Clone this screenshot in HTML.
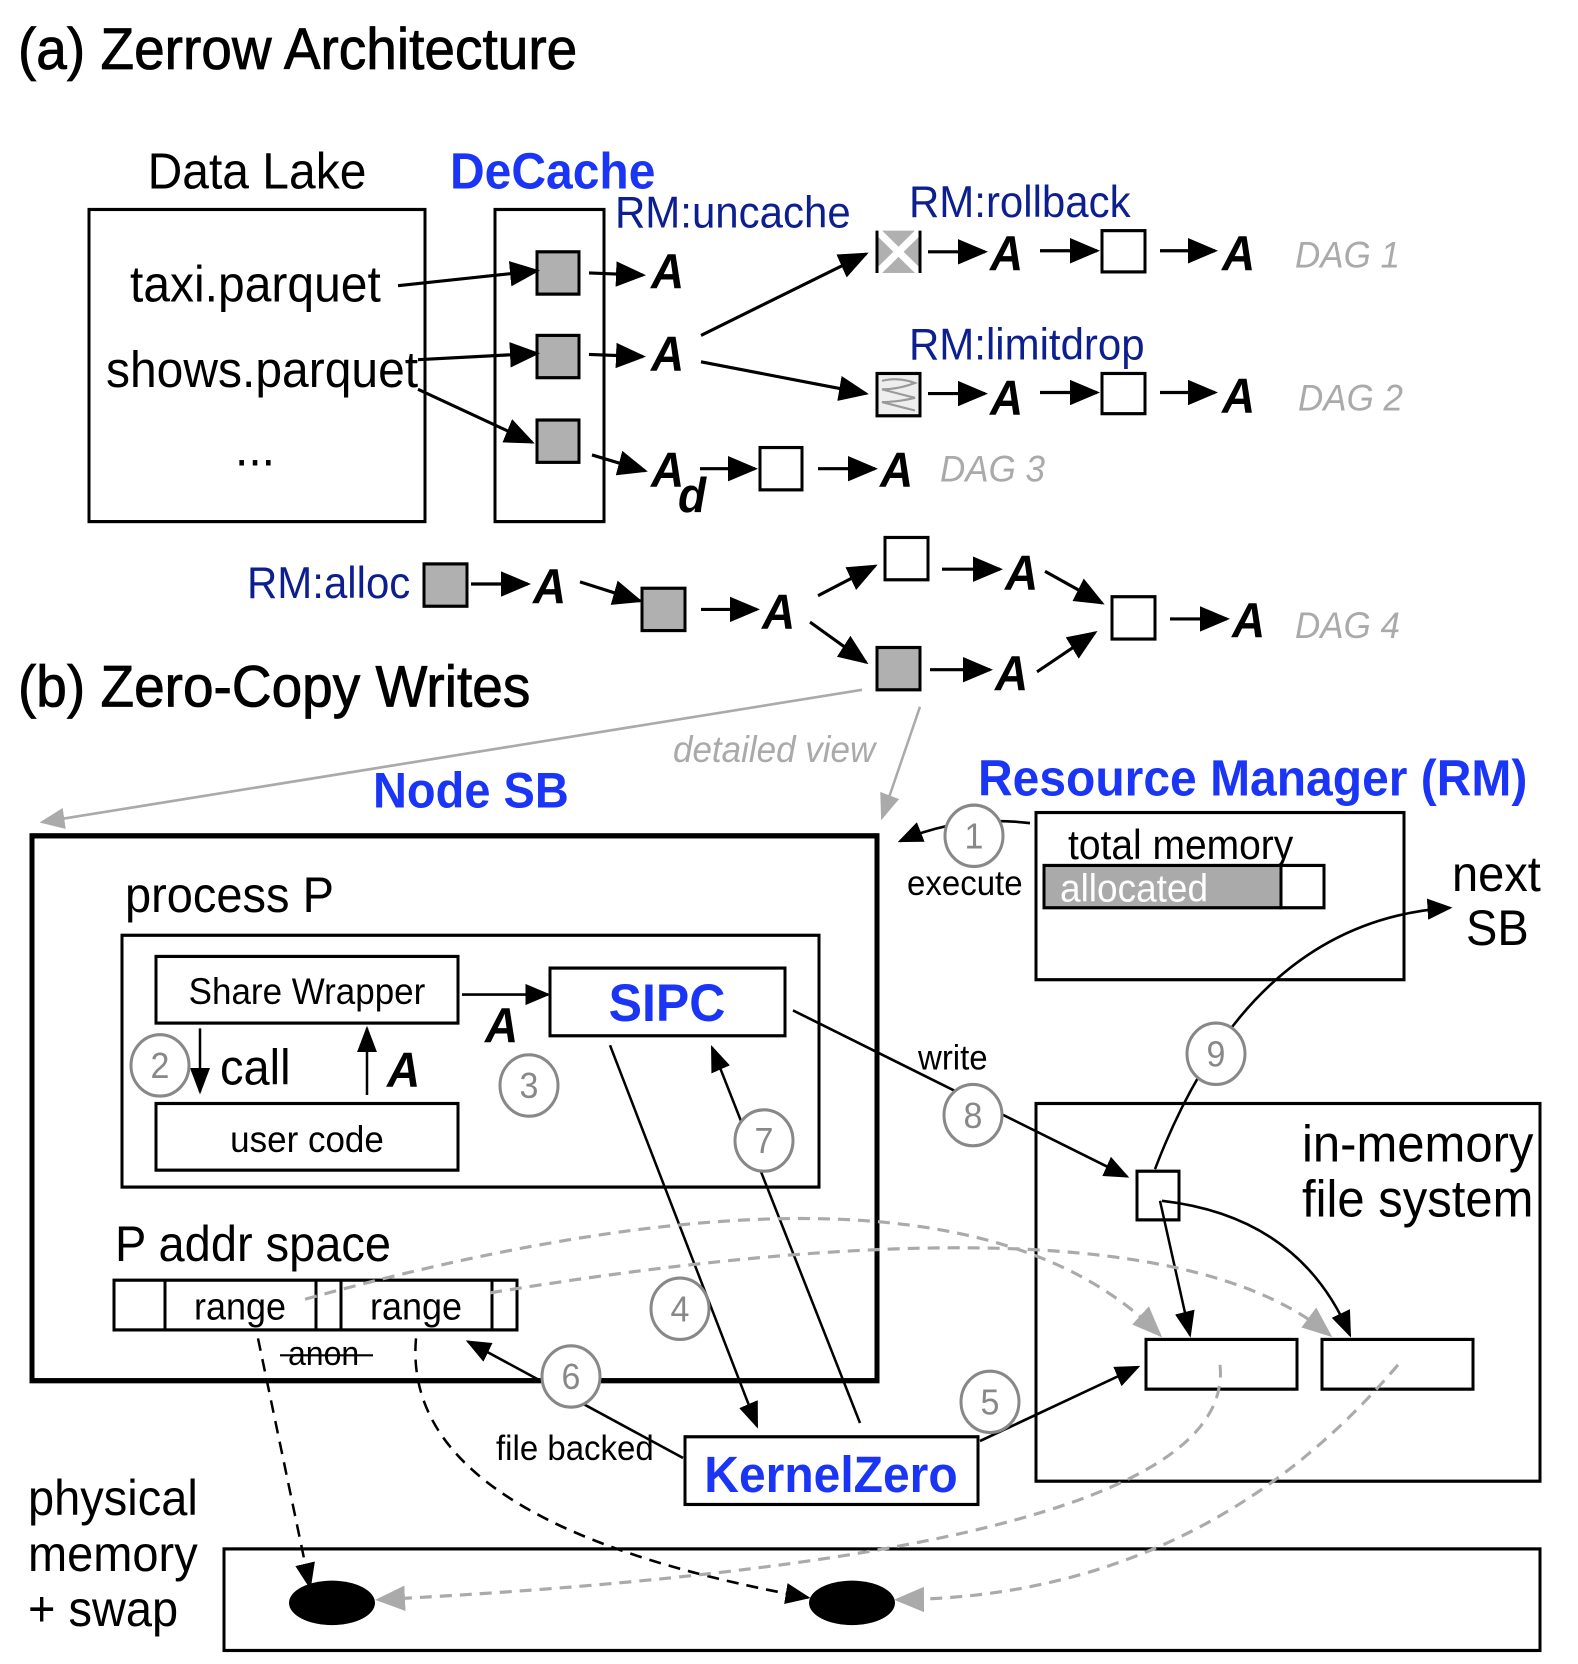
<!DOCTYPE html>
<html><head><meta charset="utf-8"><style>
html,body{margin:0;padding:0;background:#fff}
svg{display:block}
text{font-family:"Liberation Sans",sans-serif}
.A{font-weight:bold;font-style:italic;font-size:46px}
.dag{fill:#aaa;font-style:italic;font-size:35px}
.rm{fill:#0d1f8f;font-size:42px}
.blue{fill:#1a35f5;font-weight:bold}
.c{fill:#fff;stroke:#888;stroke-width:3}
.cn{fill:#888;font-size:34px;text-anchor:middle}
</style></head><body>
<svg width="1578" height="1664" viewBox="0 0 1578 1664" xmlns="http://www.w3.org/2000/svg">
<defs>
<marker id="ah" markerWidth="10" markerHeight="8" refX="9" refY="4" orient="auto" markerUnits="strokeWidth"><path d="M0,0 L10,4 L0,8 z" fill="#000"/></marker>
<marker id="ag" markerWidth="10" markerHeight="8" refX="9" refY="4" orient="auto" markerUnits="strokeWidth"><path d="M0,0 L10,4 L0,8 z" fill="#aaa"/></marker>
</defs>
<g transform="scale(1,1.058)">
<g fill="none" stroke="#000" stroke-width="3">
<rect x="89" y="198" width="336" height="295"/>
<rect x="495" y="198" width="109" height="295"/>
</g>
<text x="18" y="65" font-size="55" stroke="#000" stroke-width="0.8">(a) Zerrow Architecture</text>
<text x="257" y="178" font-size="48" text-anchor="middle">Data Lake</text>
<text x="450" y="178" font-size="48" class="blue">DeCache</text>
<text x="130" y="285" font-size="48">taxi.parquet</text>
<text x="106" y="366" font-size="48">shows.parquet</text>
<text x="255" y="440" font-size="48" text-anchor="middle">...</text>
<text x="615" y="215" class="rm">RM:uncache</text>
<text x="909" y="205" class="rm">RM:rollback</text>
<text x="909" y="340" class="rm">RM:limitdrop</text>
<text x="247" y="565" class="rm">RM:alloc</text>
<g fill="#b0b0b0" stroke="#000" stroke-width="3">
<rect x="537" y="238" width="42" height="40"/>
<rect x="537" y="317" width="42" height="40"/>
<rect x="537" y="397" width="42" height="40"/>
<rect x="424" y="533" width="43" height="40"/>
<rect x="642" y="556" width="43" height="40"/>
<rect x="877" y="612" width="43" height="40"/>
</g>
<rect x="877" y="218" width="43" height="40" fill="#b0b0b0"/>
<path d="M877,218 L920,258 M920,218 L877,258" stroke="#fff" stroke-width="7"/>
<path d="M877,218 V258 M920,218 V258" stroke="#000" stroke-width="3"/>
<rect x="877" y="353" width="43" height="40" fill="#eee" stroke="#000" stroke-width="3"/>
<path d="M882,360 Q898,356 915,362 Q898,368 882,368 Q898,372 915,376 Q898,380 882,380 Q898,384 915,388" fill="none" stroke="#999" stroke-width="2"/>
<g fill="#fff" stroke="#000" stroke-width="3">
<rect x="1102" y="218" width="43" height="39"/>
<rect x="1102" y="353" width="43" height="38"/>
<rect x="760" y="423" width="42" height="40"/>
<rect x="885" y="508" width="43" height="40"/>
<rect x="1112" y="564" width="43" height="40"/>
</g>
<g stroke="#000" stroke-width="3" fill="none" marker-end="url(#ah)">
<line x1="398" y1="270" x2="537" y2="256"/>
<line x1="418" y1="340" x2="537" y2="334"/>
<line x1="418" y1="368" x2="532" y2="418"/>
<line x1="589" y1="258" x2="643" y2="260"/>
<line x1="589" y1="335" x2="643" y2="337"/>
<line x1="592" y1="430" x2="645" y2="445"/>
<line x1="701" y1="317" x2="866" y2="240"/>
<line x1="701" y1="342" x2="866" y2="372"/>
<line x1="928" y1="238" x2="985" y2="238"/>
<line x1="1040" y1="237" x2="1097" y2="237"/>
<line x1="1160" y1="237" x2="1215" y2="237"/>
<line x1="928" y1="372" x2="985" y2="372"/>
<line x1="1040" y1="371" x2="1097" y2="371"/>
<line x1="1160" y1="371" x2="1215" y2="371"/>
<line x1="700" y1="443" x2="755" y2="443"/>
<line x1="818" y1="443" x2="875" y2="443"/>
<line x1="471" y1="552" x2="528" y2="552"/>
<line x1="580" y1="550" x2="640" y2="568"/>
<line x1="701" y1="576" x2="757" y2="576"/>
<line x1="818" y1="563" x2="875" y2="535"/>
<line x1="942" y1="538" x2="1000" y2="538"/>
<line x1="1045" y1="540" x2="1102" y2="570"/>
<line x1="810" y1="588" x2="866" y2="626"/>
<line x1="930" y1="633" x2="990" y2="633"/>
<line x1="1037" y1="635" x2="1095" y2="598"/>
<line x1="1170" y1="585" x2="1227" y2="585"/>
</g>
<text x="651" y="272" class="A">A</text>
<text x="651" y="350" class="A">A</text>
<text x="651" y="460" class="A">A</text>
<text x="678" y="484" class="A" font-size="42">d</text>
<text x="990" y="255" class="A">A</text>
<text x="1222" y="255" class="A">A</text>
<text x="990" y="392" class="A">A</text>
<text x="1222" y="390" class="A">A</text>
<text x="880" y="460" class="A">A</text>
<text x="533" y="570" class="A">A</text>
<text x="762" y="594" class="A">A</text>
<text x="1005" y="557" class="A">A</text>
<text x="995" y="652" class="A">A</text>
<text x="1232" y="602" class="A">A</text>
<text x="1295" y="253" class="dag">DAG 1</text>
<text x="1298" y="388" class="dag">DAG 2</text>
<text x="940" y="455" class="dag">DAG 3</text>
<text x="1295" y="603" class="dag">DAG 4</text>

<text x="18" y="668" font-size="55" stroke="#000" stroke-width="0.8">(b) Zero-Copy Writes</text>
<g stroke="#aaa" stroke-width="2.5" fill="none" marker-end="url(#ag)">
<line x1="862" y1="652" x2="42" y2="777"/>
<line x1="920" y1="668" x2="882" y2="773"/>
</g>
<text x="673" y="720" class="dag" font-size="33">detailed view</text>
<text x="373" y="763" font-size="47" class="blue">Node SB</text>
<text x="978" y="752" font-size="48" class="blue">Resource Manager (RM)</text>

<rect x="32" y="790" width="845" height="515" fill="none" stroke="#000" stroke-width="5"/>
<text x="125" y="862" font-size="47">process P</text>
<g fill="none" stroke="#000" stroke-width="3">
<rect x="122" y="884" width="697" height="238"/>
<rect x="156" y="904" width="302" height="63"/>
<rect x="156" y="1043" width="302" height="63"/>
<rect x="550" y="915" width="235" height="64"/>
<rect x="1036" y="768" width="368" height="158"/>
<rect x="1036" y="1043" width="504" height="357"/>
<rect x="1137" y="1107" width="42" height="46"/>
<rect x="1146" y="1266" width="151" height="47"/>
<rect x="1322" y="1266" width="151" height="47"/>
<rect x="685" y="1358" width="293" height="64"/>
<rect x="224" y="1464" width="1316" height="96"/>
<rect x="114" y="1210" width="403" height="47"/>
<path d="M165,1210V1257M316,1210V1257M341,1210V1257M492,1210V1257"/>
</g>
<text x="307" y="949" font-size="35" text-anchor="middle">Share Wrapper</text>
<text x="307" y="1089" font-size="35" text-anchor="middle">user code</text>
<text x="667" y="965" font-size="50" class="blue" text-anchor="middle">SIPC</text>
<text x="831" y="1410" font-size="48" class="blue" text-anchor="middle">KernelZero</text>
<text x="220" y="1025" font-size="47">call</text>
<text x="485" y="985" class="A">A</text>
<text x="387" y="1027" class="A">A</text>
<text x="115" y="1192" font-size="47">P addr space</text>
<text x="240" y="1247" font-size="36" text-anchor="middle">range</text>
<text x="416" y="1247" font-size="36" text-anchor="middle">range</text>
<text x="288" y="1290" font-size="32">anon</text>
<line x1="280" y1="1281" x2="373" y2="1281" stroke="#000" stroke-width="2"/>
<text x="1068" y="812" font-size="39">total memory</text>
<rect x="1044" y="818" width="237" height="40" fill="#aaa" stroke="#000" stroke-width="3"/>
<rect x="1281" y="818" width="43" height="40" fill="#fff" stroke="#000" stroke-width="3"/>
<text x="1060" y="852" font-size="37" fill="#fff">allocated</text>
<text x="907" y="846" font-size="33">execute</text>
<text x="1452" y="842" font-size="47">next</text>
<text x="1466" y="893" font-size="47">SB</text>
<text x="1302" y="1098" font-size="49">in-memory</text>
<text x="1302" y="1150" font-size="49">file system</text>
<text x="918" y="1011" font-size="33">write</text>
<text x="496" y="1380" font-size="33">file backed</text>
<text x="28" y="1432" font-size="47">physical</text>
<text x="28" y="1485" font-size="47">memory</text>
<text x="28" y="1537" font-size="47">+ swap</text>
<ellipse cx="332" cy="1515" rx="43" ry="21"/>
<ellipse cx="852" cy="1515" rx="43" ry="21"/>

<g stroke="#000" stroke-width="2.5" fill="none" marker-end="url(#ah)">
<line x1="462" y1="940" x2="548" y2="940"/>
<line x1="200" y1="972" x2="200" y2="1032"/>
<line x1="367" y1="1035" x2="367" y2="972"/>
<path d="M1030,778 Q960,770 900,795"/>
<path d="M793,955 L1127,1112"/>
<path d="M1155,1105 Q1250,870 1450,858"/>
<line x1="1160" y1="1135" x2="1190" y2="1262"/>
<path d="M1162,1135 Q1300,1150 1350,1262"/>
<line x1="610" y1="988" x2="757" y2="1348"/>
<line x1="860" y1="1345" x2="712" y2="990"/>
<line x1="683" y1="1378" x2="468" y2="1268"/>
<line x1="980" y1="1362" x2="1138" y2="1292"/>
<line x1="258" y1="1265" x2="310" y2="1500" stroke-dasharray="12,8"/>
<path d="M416,1265 Q400,1440 808,1510" stroke-dasharray="12,8"/>
</g>
<g stroke="#aaa" stroke-width="3" fill="none" stroke-dasharray="12,8" marker-end="url(#ag)">
<path d="M305,1228 Q950,1060 1160,1262"/>
<path d="M490,1222 Q1150,1120 1330,1262"/>
<path d="M1220,1290 Q1240,1470 378,1512"/>
<path d="M1398,1290 Q1200,1510 897,1512"/>
</g>
<g>
<circle class="c" cx="160" cy="1007" r="29"/><text class="cn" x="160" y="1019">2</text>
<circle class="c" cx="529" cy="1026" r="29"/><text class="cn" x="529" y="1038">3</text>
<circle class="c" cx="974" cy="790" r="29"/><text class="cn" x="974" y="802">1</text>
<circle class="c" cx="973" cy="1054" r="29"/><text class="cn" x="973" y="1066">8</text>
<circle class="c" cx="1216" cy="996" r="29"/><text class="cn" x="1216" y="1008">9</text>
<circle class="c" cx="764" cy="1078" r="29"/><text class="cn" x="764" y="1090">7</text>
<circle class="c" cx="680" cy="1237" r="29"/><text class="cn" x="680" y="1249">4</text>
<circle class="c" cx="571" cy="1301" r="29"/><text class="cn" x="571" y="1313">6</text>
<circle class="c" cx="990" cy="1325" r="29"/><text class="cn" x="990" y="1337">5</text>
</g>
</g>
</svg>
</body></html>
